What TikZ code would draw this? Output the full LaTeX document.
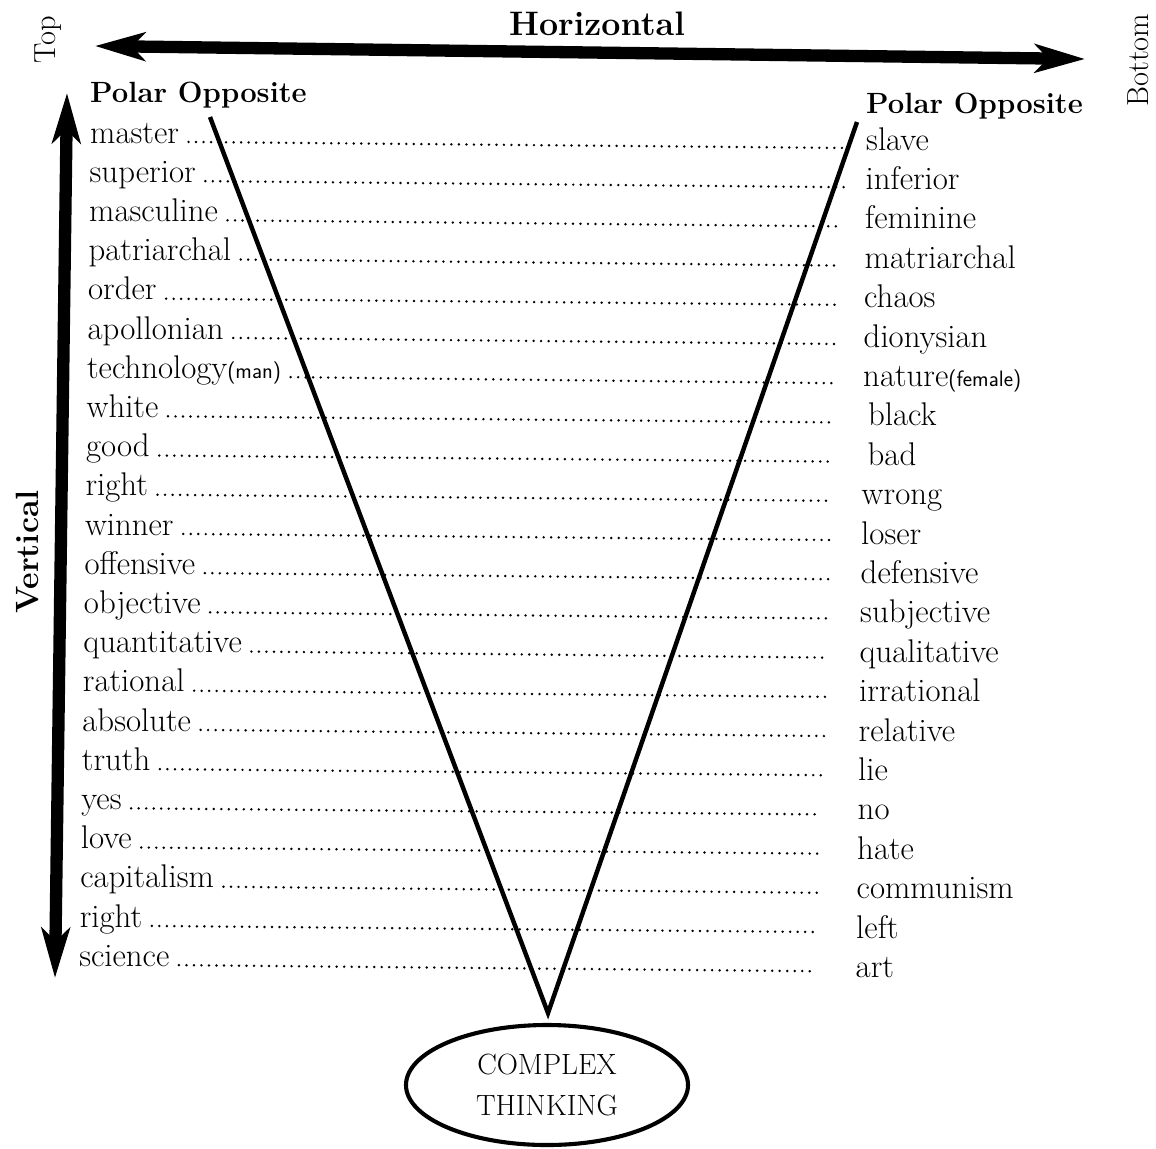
\documentclass[tikz,border=0pt]{standalone}
\usepackage{fontspec}
\usetikzlibrary{arrows.meta,shapes.geometric}

\newcommand{\sml}[1]{{\sffamily\fontsize{19}{20}\selectfont #1}}

\tikzset{
    word/.style={anchor=base west,inner sep=0pt,font=\fontsize{28}{30}\selectfont},
    head/.style={anchor=base west,inner sep=0pt,font=\fontsize{25}{27}\selectfont\bfseries},
    side/.style={inner sep=0pt,rotate=90,font=\fontsize{26}{28}\selectfont},
    dots/.style={line width=2.3pt,line cap=round,dash pattern=on 0.01pt off 6.4pt},
    bigarrow/.style={line width=10.5pt},
    bigtip/.tip={Stealth[length=1.5cm,width=0.85cm,inset=0.4cm]},
    vline/.style={line width=3.8pt},
}

\begin{document}
\begin{tikzpicture}[x=0.03cm,y=-0.03cm]
    \useasboundingbox (0,0) rectangle (1156,1148);

    % Horizontal
    \coordinate (hleft) at (95,46);
    \coordinate (hright) at (1085,59);
    \draw[bigarrow,bigtip-bigtip] (hleft) -- (hright);
    \node (horiz) [at={(597,24)},font=\fontsize{29}{30}\selectfont\bfseries] {Horizontal};
    \node (top) [side,at={(48,40)}] {Top};
    \node (bottom) [side,at={(1138,60)}] {Bottom};

    % Vertical
    \coordinate (vtop) at (67,93);
    \coordinate (vbot) at (55,978);
    \draw[bigarrow,bigtip-bigtip] (vtop) -- (vbot);
    \node (vert) [side,at={(27,552)},font=\fontsize{27.5}{28}\selectfont\bfseries] {Vertical};

    \node (polarleft) [head,at={(90,102)}] {Polar Opposite};
    \node (polarright) [head,at={(866,113)}] {Polar Opposite};

    % pairs
    \foreach \lw/\rw [count=\i from 0] in {master/slave, superior/inferior,
        masculine/feminine, patriarchal/matriarchal, order/chaos,
        apollonian/dionysian, {technology\sml{(man)}}/{nature\sml{(female)}},
        white/{\,black}, good/{\,bad}, right/wrong, winner/loser,
        offensive/defensive, objective/subjective, quantitative/qualitative,
        rational/irrational, absolute/relative, truth/lie, yes/no,
        love/hate, capitalism/communism, right/left, science/art}
    {
        \node (left\i) [word,at={({90-0.52*\i},{143+39.2*\i})}] {\lw};
        \node (right\i) [word,at={({866-0.5*\i},{150+39.4*\i})}] {\rw};
        \coordinate (dotend\i) at ({845-1.4*\i},{148+39.2*\i});
        \draw[dots,shorten <=8pt] ([yshift=1pt]left\i.base east) -- (dotend\i);
    }

    % the V
    \coordinate (vl) at (210,117);
    \coordinate (vr) at (857,122);
    \coordinate (apex) at (548,1013);
    \draw[vline] (vl) -- (apex) -- (vr);

    \node (complex) [draw,ellipse,line width=3.5pt,inner sep=0pt,
        minimum width=8.46cm,minimum height=3.6cm,align=center,
        font=\fontsize{25}{35}\selectfont,at={(547,1085)}] {COMPLEX\\THINKING};
\end{tikzpicture}
\end{document}
